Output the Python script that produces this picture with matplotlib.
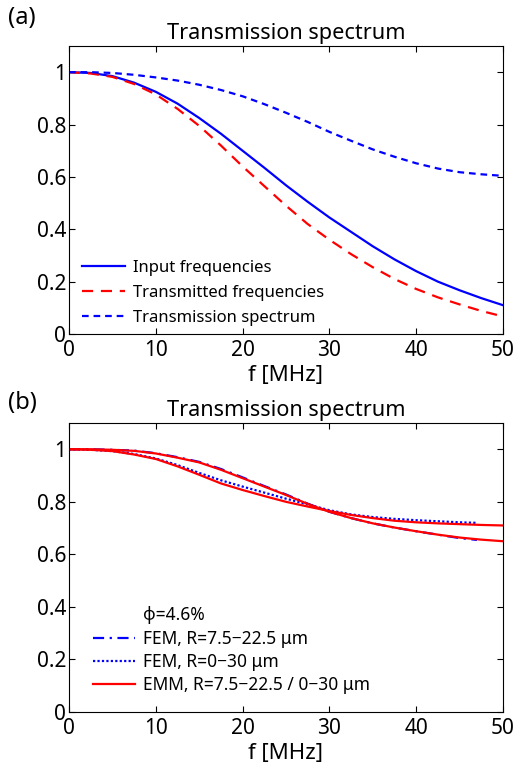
import numpy as np
import matplotlib
matplotlib.use("Agg")
import matplotlib.pyplot as plt

plt.rcParams['font.family'] = ['Noto Sans', 'DejaVu Sans']

# panel (a)
f_a = [0, 2.5, 5, 7.5, 10, 12.5, 15, 17.5, 20, 22.5, 25, 27.5, 30, 32.5, 35,
       37.5, 40, 42.5, 45, 47.5, 50]
input_freq = [1.0, 0.997, 0.985, 0.96, 0.925, 0.88, 0.825, 0.765, 0.70, 0.635,
              0.568, 0.505, 0.445, 0.39, 0.335, 0.285, 0.24, 0.2, 0.167, 0.137, 0.11]
transmitted = [1.0, 0.995, 0.982, 0.955, 0.915, 0.86, 0.795, 0.72, 0.64, 0.565,
               0.49, 0.42, 0.36, 0.305, 0.255, 0.21, 0.172, 0.14, 0.113, 0.088, 0.067]
spectrum = [1.0, 1.0, 0.997, 0.99, 0.98, 0.968, 0.952, 0.932, 0.908, 0.878,
            0.845, 0.81, 0.772, 0.738, 0.705, 0.677, 0.652, 0.632, 0.618, 0.61, 0.604]

# panel (b)
f_fem = [0, 2.5, 5, 7.5, 10, 12.5, 15, 17.5, 20, 22.5, 25, 27.5, 30, 32.5, 35,
         37.5, 40, 42.5, 45, 47]
fem_narrow = [1.0, 1.0, 0.998, 0.995, 0.985, 0.97, 0.952, 0.925, 0.893, 0.86,
              0.828, 0.793, 0.762, 0.738, 0.718, 0.702, 0.688, 0.675, 0.662, 0.655]
fem_wide = [1.0, 0.998, 0.993, 0.982, 0.965, 0.94, 0.91, 0.882, 0.858, 0.835,
            0.812, 0.79, 0.768, 0.752, 0.742, 0.735, 0.73, 0.726, 0.722, 0.72]
f_emm = f_a
emm_narrow = [1.0, 1.0, 0.998, 0.994, 0.984, 0.968, 0.95, 0.922, 0.89, 0.858,
              0.826, 0.792, 0.762, 0.738, 0.718, 0.702, 0.688, 0.675, 0.664, 0.656, 0.65]
emm_wide = [1.0, 0.998, 0.993, 0.98, 0.963, 0.935, 0.903, 0.87, 0.845, 0.822,
            0.8, 0.782, 0.765, 0.75, 0.738, 0.728, 0.722, 0.718, 0.715, 0.712, 0.71]

fig = plt.figure(figsize=(5.2, 7.64), dpi=100)
W, H = 520, 764
ax1 = fig.add_axes([69 / W, 1 - 334 / H, 434 / W, 288 / H])
ax2 = fig.add_axes([69 / W, 1 - 712 / H, 434 / W, 289 / H])

ax1.plot(f_a, input_freq, color='b', lw=1.6, label='Input frequencies')
ax1.plot(f_a, transmitted, color='r', lw=1.6, dashes=(5, 3.5), label='Transmitted frequencies')
ax1.plot(f_a, spectrum, color='b', lw=1.6, dashes=(3, 2.2), label='Transmission spectrum')

ax2.plot([], [], color='none', label='\u03d5=4.6%')
ax2.plot(f_fem, fem_narrow, color='b', lw=1.6, dashes=(5, 2.5, 1, 2.5), label='FEM, R=7.5\u221222.5 \u03bcm')
ax2.plot(f_fem, fem_wide, color='b', lw=1.6, dashes=(1, 1), label='FEM, R=0\u221230 \u03bcm')
ax2.plot(f_emm, emm_narrow, color='r', lw=1.6, label='EMM, R=7.5\u221222.5 / 0\u221230 \u03bcm')
ax2.plot(f_emm, emm_wide, color='r', lw=1.6)

for ax in (ax1, ax2):
    ax.set_xlim(0, 50)
    ax.set_ylim(0, 1.1)
    ax.set_xticks([0, 10, 20, 30, 40, 50])
    ax.set_yticks([0, 0.2, 0.4, 0.6, 0.8, 1])
    ax.set_yticklabels(['0', '0.2', '0.4', '0.6', '0.8', '1'])
    ax.tick_params(direction='in', top=True, right=True, labelsize=15, length=4)
    ax.tick_params(axis='x', pad=4)
    ax.tick_params(axis='y', pad=2)
    ax.set_title('Transmission spectrum', fontsize=15.6, pad=5)
    ax.set_xlabel('f [MHz]', fontsize=16, labelpad=3)
    for s in ax.spines.values():
        s.set_linewidth(0.8)

ax1.legend(loc='lower left', bbox_to_anchor=(82 / W, 1 - 326 / H), bbox_transform=fig.transFigure,
           frameon=False, fontsize=12, borderpad=0, borderaxespad=0, handlelength=2.6,
           handletextpad=0.45, labelspacing=0.55)
ax2.legend(loc='lower left', bbox_to_anchor=(93 / W, 1 - 694 / H), bbox_transform=fig.transFigure,
           frameon=False, fontsize=12.5, borderpad=0, borderaxespad=0, handlelength=2.4,
           handletextpad=0.5, labelspacing=0.3)

fig.text(8 / W, 1 - 18 / H, '(a)', fontsize=17, va='center', ha='left')
fig.text(8 / W, 1 - 403 / H, '(b)', fontsize=17, va='center', ha='left')

fig.savefig('out.png', dpi=100)
